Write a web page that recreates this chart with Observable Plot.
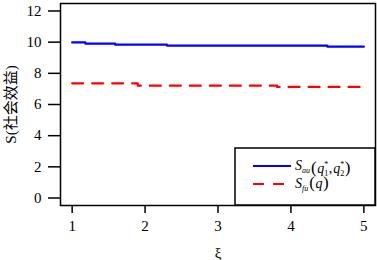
<!DOCTYPE html>
<html>
<head>
<meta charset="utf-8">
<script src="https://cdn.jsdelivr.net/npm/d3@7"></script>
<script src="https://cdn.jsdelivr.net/npm/@observablehq/plot@0.6"></script>
<style>
  html, body { margin: 0; padding: 0; background: #fff; }
  svg { display: block; }
</style>
</head>
<body>
<div id="chart"></div>
<script>
// ---- data ----
const xiAu = [1, 1.18, 1.59, 2.30, 4.50, 5];
const sAu  = [9.98, 9.91, 9.84, 9.78, 9.71, 9.71];
const xiFu = [1, 1.90, 3.81, 5];
const sFu  = [7.36, 7.21, 7.13, 7.13];
const xTicks = [1, 2, 3, 4, 5];
const yTicks = [0, 2, 4, 6, 8, 10, 12];
const xLabel = "ξ";
const yLabel = "S(社会效益)";
const colorAu = "#0000ff";
const colorFu = "#ff0000";

const au = xiAu.map((x, i) => ({x, y: sAu[i]}));
const fu = xiFu.map((x, i) => ({x, y: sFu[i]}));

const FONT = "Liberation Serif, Noto Sans CJK SC, serif";
const width = 377, height = 260;
const mL = 60, mR = 2, mT = 3, mB = 55;

const chart = Plot.plot({
  width, height,
  marginLeft: mL, marginRight: mR, marginTop: mT, marginBottom: mB,
  style: {fontFamily: FONT, fontSize: "15px", color: "#000", background: "#fff"},
  x: {domain: [0.84, 5.16]},
  y: {domain: [-0.48, 12.48]},
  marks: [
    Plot.line(fu, {x: "x", y: "y", curve: "step-after", stroke: colorFu, strokeWidth: 2.2, strokeDasharray: "11,9"}),
    Plot.line(au, {x: "x", y: "y", curve: "step-after", stroke: colorAu, strokeWidth: 2.2}),
    Plot.axisX({ticks: xTicks, tickFormat: d => d, tickSize: 8, tickPadding: 7, strokeWidth: 1.5,
      label: xLabel, labelAnchor: "center", labelArrow: "none", labelOffset: 52, fontSize: 15, fontFamily: FONT}),
    Plot.axisY({ticks: yTicks, tickFormat: d => d, tickSize: 12, tickPadding: 7, strokeWidth: 1.5,
      label: yLabel, labelAnchor: "center", labelArrow: "none", labelOffset: 55, fontSize: 15, fontFamily: FONT}),
    Plot.frame({stroke: "#000", strokeWidth: 1.5})
  ]
});
document.getElementById("chart").appendChild(chart);

// force the serif font on every text of the chart
d3.select(chart).attr("font-family", FONT).style("font-family", FONT);
d3.select(chart).selectAll("g").attr("font-family", FONT);
d3.select(chart).selectAll("text, tspan").attr("font-family", FONT).style("font-family", FONT);

// ---- legend box inside the plot (bottom-right corner) ----
const svg = d3.select(chart);
const fr = width - mR, fb = height - mB;
const g = svg.append("g").attr("text-anchor", "start");
g.append("rect")
  .attr("x", 235).attr("y", 148)
  .attr("width", fr - 235).attr("height", fb - 148)
  .attr("fill", "#fff").attr("stroke", "#000").attr("stroke-width", 1.5);
g.append("line").attr("x1", 253).attr("x2", 291).attr("y1", 166).attr("y2", 166)
  .attr("stroke", colorAu).attr("stroke-width", 2.2);
g.append("line").attr("x1", 253).attr("x2", 291).attr("y1", 184).attr("y2", 184)
  .attr("stroke", colorFu).attr("stroke-width", 2.2).attr("stroke-dasharray", "11,9");

function legendText(y, parts) {
  const t = g.append("text").attr("x", 295).attr("y", y)
    .attr("text-anchor", "start")
    .style("font-family", FONT).style("font-size", "14px").attr("fill", "#000");
  parts.forEach(p => {
    const s = t.append("tspan").text(p.t).style("font-family", FONT).attr("fill", "#000");
    if (p.i) s.style("font-style", "italic");
    s.style("font-size", (p.fs || 14) + "px");
    if (p.dx != null) s.attr("dx", p.dx);
    if (p.dy != null) s.attr("dy", p.dy);
  });
}
legendText(170, [
  {t: "S", i: true},
  {t: "au", i: true, fs: 8, dy: 3},
  {t: "(", fs: 17, dy: -0.5, dx: 1},
  {t: "q", i: true, dx: 0.5, dy: 0.5},
  {t: "*", fs: 8, dy: -6},
  {t: "1", fs: 8, dy: 9, dx: -4},
  {t: ",", dy: -3, dx: 0.5},
  {t: "q", i: true, dx: 1},
  {t: "*", fs: 8, dy: -6},
  {t: "2", fs: 8, dy: 9, dx: -4},
  {t: ")", fs: 17, dy: -3.5, dx: 0.5}
]);
legendText(188, [
  {t: "S", i: true},
  {t: "fu", i: true, fs: 8, dy: 3},
  {t: "(", fs: 17, dy: -3.5, dx: 1},
  {t: "q", i: true, dx: 0.5, dy: 0.5},
  {t: ")", fs: 17, dy: -0.5, dx: 0.5}
]);
</script>
</body>
</html>
